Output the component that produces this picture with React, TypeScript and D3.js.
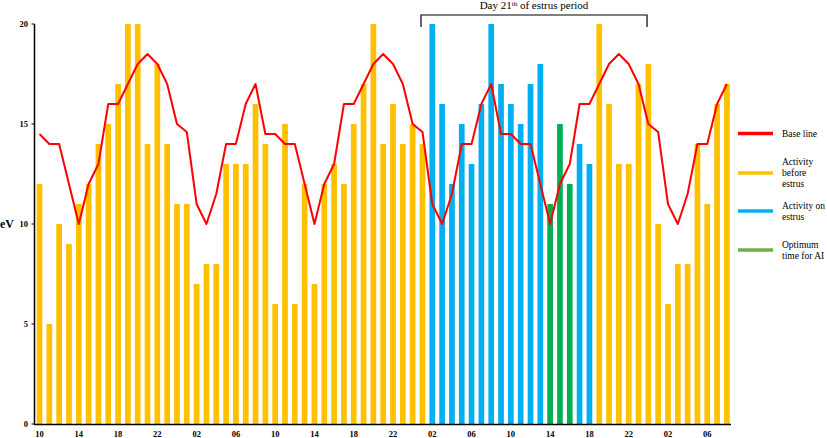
import React from "react";
import * as d3 from "d3";

const hours = [
  "10","11","12","13","14","15","16","17","18","19","20","21","22","23","00","01","02","03","04","05","06","07","08","09",
  "10","11","12","13","14","15","16","17","18","19","20","21","22","23","00","01","02","03","04","05","06","07","08","09",
  "10","11","12","13","14","15","16","17","18","19","20","21","22","23","00","01","02","03","04","05","06","07","08",
];

const activity = [
  12, 5, 10, 9, 11, 12, 14, 15, 17, 20, 20, 14, 18, 14, 11, 11, 7, 8, 8, 13, 13, 13, 16, 14,
  6, 15, 6, 12, 7, 12, 13, 12, 15, 17, 20, 14, 16, 14, 15, 14, 20, 16, 12, 15, 13, 16, 20, 17,
  16, 15, 17, 18, 11, 15, 12, 14, 13, 20, 16, 13, 13, 17, 18, 10, 6, 8, 8, 14, 11, 16, 17,
];

const baseline = [
  14.5, 14, 14, 12, 10, 12, 13, 16, 16, 17, 18, 18.5, 18, 17, 15, 14.6, 11, 10, 11.5, 14, 14, 16, 17, 14.5,
  14.5, 14, 14, 12, 10, 12, 13, 16, 16, 17, 18, 18.5, 18, 17, 15, 14.6, 11, 10, 11.5, 14, 14, 16, 17, 14.5,
  14.5, 14, 14, 12, 10, 12, 13, 16, 16, 17, 18, 18.5, 18, 17, 15, 14.6, 11, 10, 11.5, 14, 14, 16, 17,
];

// phase per bar: B = before estrus, E = on estrus, O = optimum time for AI
const phases = [
  "B","B","B","B","B","B","B","B","B","B","B","B","B","B","B","B","B","B","B","B","B","B","B","B",
  "B","B","B","B","B","B","B","B","B","B","B","B","B","B","B","B","E","E","E","E","E","E","E","E",
  "E","E","E","E","O","O","O","E","E","B","B","B","B","B","B","B","B","B","B","B","B","B","B",
];

const yTicks = [0, 5, 10, 15, 20];
const xTickIdx = [0, 4, 8, 12, 16, 20, 24, 28, 32, 36, 40, 44, 48, 52, 56, 60, 64, 68];

const phaseColor: Record<string, string> = { B: "#FFC000", E: "#00B0F0", O: "#00B050" };

const legendItems = [
  { lines: ["Base line"], color: "#FF0000", y: 133.5 },
  { lines: ["Activity", "before", "estrus"], color: "#FFC000", y: 173 },
  { lines: ["Activity on", "estrus"], color: "#00B0F0", y: 211 },
  { lines: ["Optimum", "time for AI"], color: "#70AD47", y: 250 },
];

const estrusStart = 40;
const estrusEnd = 62;

export default function App() {
  const idx = hours.map((_, i) => i);
  const x = d3.scaleBand<number>().domain(idx).range([34.6, 731.8]).paddingInner(0.42).paddingOuter(0.21);
  const y = d3.scaleLinear().domain([0, 20]).range([424, 24]);
  const cx = (i: number) => (x(i) as number) + x.bandwidth() / 2;
  const line = d3.line<number>().x((_, i) => cx(i)).y((d) => y(d));
  const font = '"Liberation Serif", "Times New Roman", serif';
  const bx0 = cx(estrusStart) - 11.3;
  const bx1 = cx(estrusEnd) - 1.3;

  return (
    <svg width={827} height={438} style={{ position: "absolute", left: 0, top: 0, background: "#fff", fontFamily: font }}>
      {activity.map((v, i) => (
        <rect key={i} x={x(i)} y={y(v)} width={x.bandwidth()} height={y(0) - y(v)} fill={phaseColor[phases[i]]} />
      ))}
      <path d={line(baseline) || ""} fill="none" stroke="#FF0000" strokeWidth={2} strokeLinejoin="round" />
      {/* y axis */}
      <line x1={34.5} x2={34.5} y1={y(20)} y2={y(0)} stroke="#000" strokeWidth={1.5} />
      {yTicks.map((t) => (
        <g key={t}>
          <line x1={31.5} x2={34.5} y1={y(t)} y2={y(t)} stroke="#000" strokeWidth={1} />
          <text x={28} y={y(t)} dy="0.35em" textAnchor="end" fontSize={8.5} fontWeight="bold" style={{ fontFamily: font }}>{t}</text>
        </g>
      ))}
      <text x={0} y={224} dy="0.35em" fontSize={12} fontWeight="bold" style={{ fontFamily: font }}>eV</text>
      {/* x axis */}
      <line x1={34} x2={731} y1={424.5} y2={424.5} stroke="#000" strokeWidth={1.5} />
      {xTickIdx.map((i) => (
        <text key={i} x={cx(i)} y={434.5} dy="0.35em" textAnchor="middle" fontSize={8.5} fontWeight="bold" style={{ fontFamily: font }}>{hours[i]}</text>
      ))}
      {/* bracket */}
      <path d={`M${bx0},27 V15 H${bx1} V27`} fill="none" stroke="#000" strokeWidth={1.2} />
      <text x={(bx0 + bx1) / 2} y={9} textAnchor="middle" fontSize={11} style={{ fontFamily: font }}>
        Day 21<tspan fontSize={7} dy={-3.5}>th</tspan><tspan dy={3.5}> of estrus period</tspan>
      </text>
      {/* legend */}
      {legendItems.map((it, k) => (
        <g key={k}>
          <line x1={738} x2={773} y1={it.y} y2={it.y} stroke={it.color} strokeWidth={3.5} />
          {it.lines.map((l, j) => (
            <text key={j} x={782} y={it.y + (j - (it.lines.length - 1) / 2) * 11} dy="0.35em" fontSize={9.5} style={{ fontFamily: font }}>{l}</text>
          ))}
        </g>
      ))}
    </svg>
  );
}
